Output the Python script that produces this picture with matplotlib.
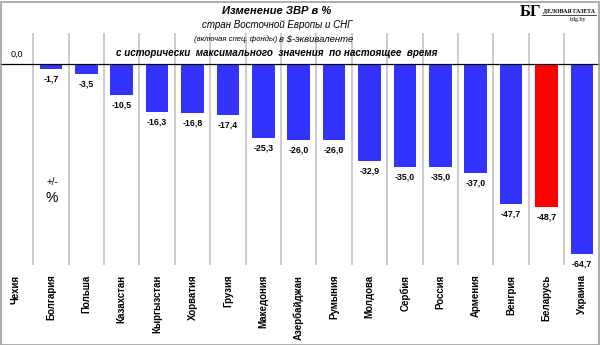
import numpy as np
import matplotlib.pyplot as plt
from matplotlib.patches import Rectangle

# Данные
countries = ["Чехия", "Болгария", "Польша", "Казахстан", "Кыргызстан", "Хорватия",
             "Грузия", "Македония", "Азербайджан", "Румыния", "Молдова", "Сербия",
             "Россия", "Армения", "Венгрия", "Беларусь", "Украина"]
values = [0.0, -1.7, -3.5, -10.5, -16.3, -16.8, -17.4, -25.3, -26.0, -26.0,
          -32.9, -35.0, -35.0, -37.0, -47.7, -48.7, -64.7]
highlight = "Беларусь"

W, H = 600, 345
fig = plt.figure(figsize=(W / 100, H / 100), dpi=100)
fig.patch.set_facecolor("white")

ax = fig.add_axes([0, (H - 265) / H, 1, (265 - 33) / H])
x = np.arange(len(countries))
colors = ["#ff0000" if c == highlight else "#3333ff" for c in countries]
ax.bar(x, values, width=0.64, color=colors, zorder=3)

ax.set_xlim(-0.44, len(countries) - 0.49)
ax.set_ylim(-68.4, 10.55)
for s in ax.spines.values():
    s.set_visible(False)
ax.set_yticks([])
ax.set_xticks(x)
ax.set_xticklabels(countries, rotation=90, va="top", ha="center",
                   fontsize=7, fontweight="bold", family="Liberation Sans")
ax.tick_params(axis="x", length=0, pad=7)

# вертикальные разделители
for xv in x[:-1] + 0.5:
    ax.axvline(xv, color="#c4c4c4", lw=1.2, zorder=1)
ax.axhline(0, color="black", lw=0.9, zorder=4)

# подписи значений
for xi, v in zip(x, values):
    label = f"{v:.1f}".replace(".", ",")
    if v == 0:
        ax.annotate(label, (xi, 0), xytext=(1, 7.2), textcoords="offset points",
                    ha="center", va="center", fontsize=6.5, family="Liberation Sans")
    else:
        ax.annotate(label, (xi, v), xytext=(0, -4), textcoords="offset points",
                    ha="center", va="top", fontsize=6.3, fontweight="bold",
                    family="Liberation Sans")

def ftext(px, py, s, **kw):
    fig.text(px / W, 1 - py / H, s, **kw)

ftext(52, 182, "+/-", ha="center", va="center", fontsize=7, family="Liberation Sans")
ftext(52, 198, "%", ha="center", va="center", fontsize=10, family="Liberation Sans")

# заголовок
ftext(277, 11, "Изменение ЗВР в %", ha="center", va="center", fontsize=8,
      fontweight="bold", style="italic", family="Liberation Sans")
ftext(277, 25, "стран Восточной Европы и СНГ", ha="center", va="center",
      fontsize=7, style="italic", family="Liberation Sans")
ftext(279, 39, "(включая спец. фонды) ", ha="right", va="center",
      fontsize=5.6, style="italic", family="Liberation Sans")
ftext(279, 39, "в $-эквиваленте", ha="left", va="center",
      fontsize=6.8, style="italic", family="Liberation Sans")
ftext(277, 53, "с исторически  максимального  значения  по настоящее  время",
      ha="center", va="center", fontsize=7.1, fontweight="bold", style="italic",
      family="Liberation Sans")

# логотип
ftext(531, 12, "БГ", ha="center", va="center", fontsize=12, fontweight="bold",
      family="Liberation Serif")
ftext(569, 11, "ДЕЛОВАЯ ГАЗЕТА", ha="center", va="center", fontsize=4.2,
      fontweight="bold", family="Liberation Serif")
fig.add_artist(plt.Line2D([542 / W, 596 / W], [1 - 14.5 / H, 1 - 14.5 / H],
                          color="black", lw=0.5))
ftext(577, 20, "bdg.by", ha="center", va="center", fontsize=4.2,
      family="Liberation Serif")

# рамка
fig.add_artist(Rectangle((0.5 / W, 0.5 / H), 1 - 2 / W, 1 - 2 / H,
                         transform=fig.transFigure, fill=False,
                         edgecolor="#a0a0a0", lw=1.2))

fig.savefig("out.png", dpi=100, facecolor="white")
